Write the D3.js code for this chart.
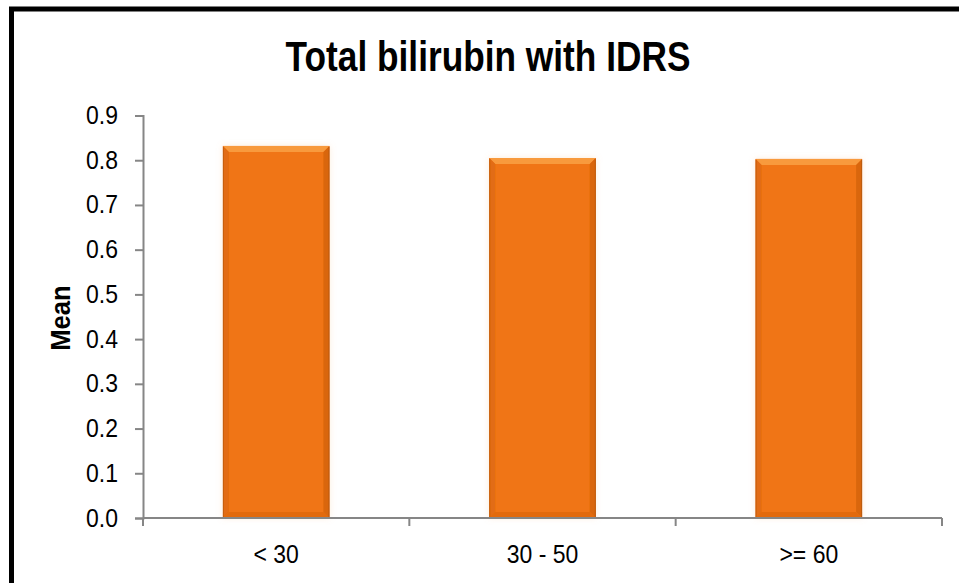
<!DOCTYPE html>
<html>
<head>
<meta charset="utf-8">
<script src="https://cdn.jsdelivr.net/npm/d3@7"></script>
<style>
  html, body { margin: 0; padding: 0; background: #fff; }
  svg { display: block; }
</style>
</head>
<body>
<svg id="chart" width="959" height="583"></svg>
<script>
// Mean total bilirubin by IDRS group
const categories = ["< 30", "30 - 50", ">= 60"];
const meanValues = [0.832, 0.805, 0.803];
const yTicks = [0, 0.1, 0.2, 0.3, 0.4, 0.5, 0.6, 0.7, 0.8, 0.9];
const titleText = "Total bilirubin with IDRS";
const yAxisTitle = "Mean";

const svg = d3.select("#chart");
const W = 959, H = 583;
const plot = { left: 143, right: 942, top: 115.5, bottom: 518 };

svg.append("rect").attr("width", W).attr("height", H).attr("fill", "#fff");

// frame (runs off the right and bottom edges)
svg.append("rect")
  .attr("x", 11.5).attr("y", 9)
  .attr("width", 1000).attr("height", 1000)
  .attr("fill", "none").attr("stroke", "#000").attr("stroke-width", 5);

const labelFont = "'Liberation Sans', Arial, sans-serif";

// title, set in a condensed bold face
svg.append("text")
  .attr("transform", "translate(488,71) scale(0.84,1)")
  .attr("text-anchor", "middle")
  .attr("font-family", labelFont)
  .attr("font-weight", "bold")
  .attr("font-size", 42)
  .attr("fill", "#000")
  .text(titleText);

const x = d3.scaleBand()
  .domain(categories)
  .range([plot.left, plot.right])
  .paddingInner(0.6)
  .paddingOuter(0.3);

const y = d3.scaleLinear()
  .domain([0, 0.9])
  .range([plot.bottom, plot.top]);

const axisColor = "#868686";

// y axis
const yAxis = svg.append("g")
  .attr("transform", `translate(${plot.left},0)`)
  .call(d3.axisLeft(y).tickValues(yTicks).tickFormat(d3.format(".1f")).tickSize(8).tickPadding(0));
yAxis.select(".domain").attr("stroke", axisColor).attr("stroke-width", 2);
yAxis.selectAll(".tick line").attr("stroke", axisColor).attr("stroke-width", 2);
yAxis.selectAll(".tick text")
  .attr("x", null)
  .attr("transform", "translate(-25,0) scale(0.92,1)")
  .attr("font-family", labelFont).attr("font-size", 25).attr("fill", "#000");

// x axis: labels centred in bands, ticks at band boundaries
const step = x.step();
const xAxis = svg.append("g")
  .attr("transform", `translate(0,${plot.bottom})`)
  .call(d3.axisBottom(x).tickSize(0).tickPadding(0));
xAxis.select(".domain").remove();
xAxis.selectAll(".tick text")
  .attr("y", null)
  .attr("dy", null)
  .attr("transform", "translate(0,45) scale(0.92,1)")
  .attr("font-family", labelFont).attr("font-size", 25).attr("fill", "#000");
xAxis.append("line")
  .attr("x1", plot.left).attr("x2", plot.right)
  .attr("y1", 0).attr("y2", 0)
  .attr("stroke", axisColor).attr("stroke-width", 2);
const boundaries = categories.map(c => x(c) - step * x.paddingInner() / 2);
boundaries[0] = plot.left;
boundaries.push(plot.right);
xAxis.selectAll("line.bound")
  .data(boundaries)
  .join("line")
  .attr("class", "bound")
  .attr("x1", d => d).attr("x2", d => d)
  .attr("y1", 0).attr("y2", 8)
  .attr("stroke", axisColor).attr("stroke-width", 2);

// y axis title
svg.append("text")
  .attr("transform", "translate(70,318) rotate(-90) scale(0.95,1)")
  .attr("text-anchor", "middle")
  .attr("font-family", labelFont)
  .attr("font-weight", "bold")
  .attr("font-size", 27)
  .attr("fill", "#000")
  .text(yAxisTitle);

// bars with bevelled edges
const defs = svg.append("defs");
const glow = defs.append("filter").attr("id", "glow")
  .attr("x", "-10%").attr("y", "-10%").attr("width", "120%").attr("height", "120%");
glow.append("feGaussianBlur").attr("in", "SourceAlpha").attr("stdDeviation", 3).attr("result", "b");
glow.append("feFlood").attr("flood-color", "#f7c48a").attr("flood-opacity", 0.3);
glow.append("feComposite").attr("in2", "b").attr("operator", "in").attr("result", "s");
const m = glow.append("feMerge");
m.append("feMergeNode").attr("in", "s");
m.append("feMergeNode").attr("in", "SourceGraphic");

const bev = 6;
const bars = svg.append("g").selectAll("g.bar")
  .data(categories.map((c, i) => ({ c, v: meanValues[i] })))
  .join("g")
  .attr("class", "bar")
  .attr("filter", "url(#glow)");

bars.each(function(d) {
  const g = d3.select(this);
  const x0 = x(d.c), x1 = x0 + x.bandwidth();
  const y0 = y(d.v), y1 = y(0);
  g.append("rect")
    .attr("x", x0).attr("y", y0)
    .attr("width", x1 - x0).attr("height", y1 - y0)
    .attr("fill", "#f07512");
  // top bevel
  g.append("polygon")
    .attr("points", [[x0, y0], [x1, y0], [x1 - bev, y0 + bev], [x0 + bev, y0 + bev]].join(" "))
    .attr("fill", "#f89a3e");
  // left bevel
  g.append("polygon")
    .attr("points", [[x0, y0], [x0 + bev, y0 + bev], [x0 + bev, y1 - bev], [x0, y1]].join(" "))
    .attr("fill", "#e26c12");
  // right bevel
  g.append("polygon")
    .attr("points", [[x1, y0], [x1 - bev, y0 + bev], [x1 - bev, y1 - bev], [x1, y1]].join(" "))
    .attr("fill", "#d9660f");
  // bottom bevel
  g.append("polygon")
    .attr("points", [[x0, y1], [x0 + bev, y1 - bev], [x1 - bev, y1 - bev], [x1, y1]].join(" "))
    .attr("fill", "#e26b11");
  // thin darker edges on the sides
  g.append("line").attr("x1", x0 + 0.5).attr("x2", x0 + 0.5).attr("y1", y0 + 1).attr("y2", y1)
    .attr("stroke", "#b0550c").attr("stroke-width", 1).attr("opacity", 0.6);
  g.append("line").attr("x1", x1 - 0.5).attr("x2", x1 - 0.5).attr("y1", y0 + 1).attr("y2", y1)
    .attr("stroke", "#b0550c").attr("stroke-width", 1).attr("opacity", 0.7);
});

// keep the axis line on top of the bar bases
xAxis.raise();
</script>
</body>
</html>
